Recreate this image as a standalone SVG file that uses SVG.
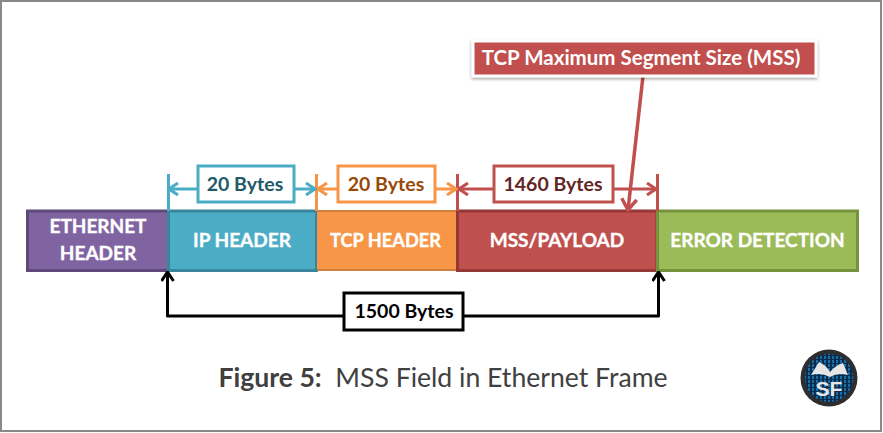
<svg xmlns="http://www.w3.org/2000/svg" width="883" height="433" viewBox="0 0 883 433">
<defs>
<style>
text{font-family:Lato,"Liberation Sans",sans-serif;text-anchor:middle}
.seg{stroke-width:3}
.st{font-weight:700;font-size:19px;fill:#fff;stroke:#fff;stroke-width:.35px}
.lb{font-weight:700;font-size:19.5px}
.box{fill:#fff;stroke-width:3}
.ln{fill:none;stroke-width:3}
</style>
<marker id="ab" viewBox="0 0 14 14" refX="12.500" refY="7" markerWidth="14" markerHeight="14" markerUnits="userSpaceOnUse" orient="auto-start-reverse"><path d="M3.500 1L12.500 7L3.500 13" fill="none" stroke="#4bacc6" stroke-width="3"/></marker>
<marker id="ao" viewBox="0 0 14 14" refX="12.500" refY="7" markerWidth="14" markerHeight="14" markerUnits="userSpaceOnUse" orient="auto-start-reverse"><path d="M3.500 1L12.500 7L3.500 13" fill="none" stroke="#f79646" stroke-width="3"/></marker>
<marker id="ar" viewBox="0 0 14 14" refX="12.500" refY="7" markerWidth="14" markerHeight="14" markerUnits="userSpaceOnUse" orient="auto-start-reverse"><path d="M3.500 1L12.500 7L3.500 13" fill="none" stroke="#c0504d" stroke-width="3"/></marker>
<marker id="ad" viewBox="0 0 18 18" refX="16" refY="9" markerWidth="18" markerHeight="18" markerUnits="userSpaceOnUse" orient="auto"><path d="M5 1.500L16 9L5 16.500" fill="none" stroke="#c0504d" stroke-width="3.500"/></marker>
<marker id="ak" viewBox="0 0 14 14" refX="12.500" refY="7" markerWidth="14" markerHeight="14" markerUnits="userSpaceOnUse" orient="auto"><path d="M3.500 1L12.500 7L3.500 13" fill="none" stroke="#000" stroke-width="3"/></marker>
<filter id="sh" x="-5%" y="-20%" width="110%" height="150%"><feDropShadow dx="0" dy="1.5" stdDeviation="1.5" flood-color="#000" flood-opacity=".4"/></filter>
<pattern id="dots" width="4" height="4" patternUnits="userSpaceOnUse"><rect width="4" height="4" fill="#0a2c4c"/><rect width="2" height="3" fill="#1a6ea8"/></pattern>
</defs>
<rect width="883" height="433" fill="#fff"/>
<rect x="1" y="1" width="880" height="430" fill="none" stroke="#898989" stroke-width="2"/>

<g id="ethernet-header"><rect class="seg" x="27.500" y="211" width="141" height="59.500" fill="#8064a2" stroke="#5f497a"/><text class="st" x="98" y="233">ETHERNET</text><text class="st" x="98" y="260">HEADER</text></g>
<g id="ip-header"><rect class="seg" x="168.500" y="211" width="148" height="59.500" fill="#4bacc6" stroke="#39859b"/><text class="st" x="242" y="247">IP HEADER</text></g>
<g id="tcp-header"><rect x="317" y="210" width="140" height="61" fill="#f79646"/><path d="M317 211H457M317 270H457" stroke="#c9793a" stroke-width="2" opacity=".8"/><text class="st" x="385.500" y="247" style="font-size:18.200px">TCP HEADER</text></g>
<g id="mss-payload"><rect class="seg" x="457.500" y="211" width="199.500" height="59.500" fill="#c0504d" stroke="#953735"/><text class="st" x="557" y="247">MSS/PAYLOAD</text></g>
<g id="error-detection"><rect class="seg" x="657.500" y="211" width="200" height="59.500" fill="#9bbb59" stroke="#76923c"/><text class="st" x="757.500" y="247">ERROR DETECTION</text></g>

<g id="connectors">
<path class="ln" stroke="#4bacc6" d="M168.500 174V211"/>
<path class="ln" stroke="#f79646" d="M316.500 174V211"/>
<path class="ln" stroke="#c0504d" d="M457.500 174V211M657.500 174V211"/>
<path class="ln" stroke="#4bacc6" marker-start="url(#ab)" marker-end="url(#ab)" d="M169 189H315"/>
<path class="ln" stroke="#f79646" marker-start="url(#ao)" marker-end="url(#ao)" d="M318 189H456"/>
<path class="ln" stroke="#c0504d" marker-start="url(#ar)" marker-end="url(#ar)" d="M459 189H656"/>
<path fill="none" stroke="#c0504d" stroke-width="3.500" marker-end="url(#ad)" d="M643 76L628 210"/>
<path class="ln" stroke="#000" stroke-linejoin="round" marker-end="url(#ak)" d="M344 316H167.500V272"/>
<path class="ln" stroke="#000" stroke-linejoin="round" marker-end="url(#ak)" d="M463 316H658.500V272"/>
</g>

<g id="label-20-ip"><rect class="box" x="198" y="166" width="96" height="36" stroke="#4bacc6"/><text class="lb" x="245" y="191" fill="#215968">20 Bytes</text></g>
<g id="label-20-tcp"><rect class="box" x="338" y="166" width="97" height="36" stroke="#f79646"/><text class="lb" x="386" y="191" fill="#984807">20 Bytes</text></g>
<g id="label-1460"><rect class="box" x="494" y="166" width="119" height="36" stroke="#c0504d"/><text class="lb" x="553" y="191" fill="#632523">1460 Bytes</text></g>
<g id="label-1500"><rect x="344" y="293" width="119" height="37" fill="#fff" stroke="#000" stroke-width="3"/><text class="lb" x="404" y="318" fill="#000">1500 Bytes</text></g>
<g id="label-mss"><rect x="473" y="41" width="343" height="35" fill="#c0504d" stroke="#fff" stroke-width="3" filter="url(#sh)"/><text class="lb" x="641" y="65" fill="#fff" style="font-size:20.500px">TCP Maximum Segment Size (MSS)</text></g>

<text x="443" y="387" fill="#404040" style="font-size:26.600px"><tspan font-weight="700">Figure 5:</tspan><tspan xml:space="preserve">  MSS Field in Ethernet Frame</tspan></text>

<g id="logo">
<circle cx="829" cy="378" r="28.500" fill="#2e2e30"/>
<circle cx="829" cy="378" r="24" fill="url(#dots)"/>
<path d="M811 375L819 362Q826 365 830 372Q836 365 843 363L848 375Q838 372 830 377Q821 372 811 375Z" fill="#e6e6e6"/>
<text x="829" y="396" style="font-family:'Liberation Sans',sans-serif;font-weight:700;font-size:21px" fill="#e6e6e6">SF</text>
</g>
</svg>
